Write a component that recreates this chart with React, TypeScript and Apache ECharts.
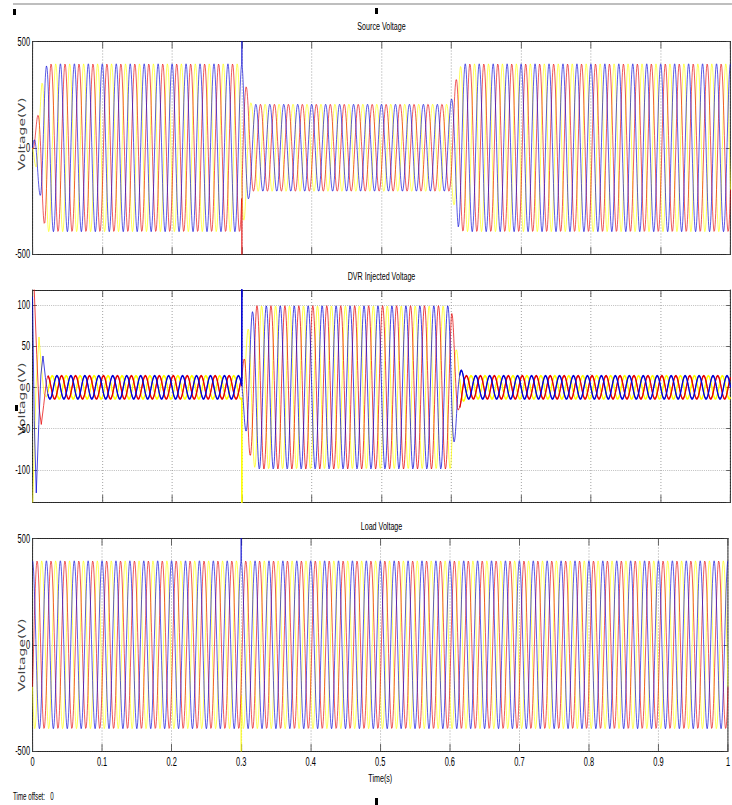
import React, { useEffect, useRef } from "react";
import * as echarts from "echarts";

// ---------------- values ----------------
const TIME_TICKS = [0, 0.1, 0.2, 0.3, 0.4, 0.5, 0.6, 0.7, 0.8, 0.9, 1];
const FREQ_HZ = 50; // 5 cycles per 0.1 s
const SAMPLE_STEP = 0.0004;
const SPIKE_T = 0.3;

const PHASE_NAMES = ["Phase C", "Phase B", "Phase A"];
const PHASE_COLORS = ["#ffff00", "#e60000", "#0000d6"];

// Source voltage: amplitude envelope (s, V) and phase angles (deg)
const SOURCE_PHASE_DEG = [120, -120, 0];
const SOURCE_ENV_T = [0, 0.0067, 0.01, 0.0133, 0.018, 0.022, 0.3, 0.305, 0.31, 0.314, 0.598, 0.603, 0.61, 0.617, 1];
const SOURCE_ENV_V = [0, 140, 210, 300, 375, 395, 395, 307, 237, 205, 205, 260, 372, 395, 395];
const SOURCE_SPIKE = [null, -620, 620];
const SOURCE_Y = [-500, 500];
const SOURCE_Y_STEP = 500;

// DVR injected voltage
const DVR_PHASE_DEG = [-150, -30, 90];
const DVR_ENV_T = [0.022, 0.3, 0.304, 0.31, 0.316, 0.32, 0.6, 0.603, 0.607, 0.611, 0.615, 0.62, 1];
const DVR_ENV_V = [14, 14, 45, 78, 94, 99, 99, 76, 50, 26, 20, 14, 14];
const DVR_SPIKE = [-180, null, 180];
const DVR_START_C = [[0, -150], [0.002, -90], [0.005, 0], [0.0093, 61], [0.013, 22], [0.0165, -8], [0.02, -12]];
const DVR_START_B = [[0, 160], [0.0025, 118], [0.006, 40], [0.0095, -25], [0.0126, -45], [0.016, -22], [0.02, 8]];
const DVR_START_A = [[0, 110], [0.0025, -40], [0.0054, -128], [0.009, -45], [0.012, 15], [0.015, 38], [0.0185, 12], [0.02, 3]];
const DVR_Y = [-139, 118];
// time spans drawn with the heavier stroke (small steady-state injection)
const DVR_BOLD_SPANS = [[0.022, 0.3], [0.612, 1]];

// Load voltage
const LOAD_PHASE_DEG = [120, -120, 0];
const LOAD_ENV_T = [0, 1];
const LOAD_ENV_V = [395, 395];
const LOAD_SPIKE = [-560, null, 560];
const LOAD_Y = [-500, 500];
const LOAD_Y_STEP = 500;

// ---------------- layout (reference image is horizontally compressed) ----------------
const S = 0.6203;
const W = 1180;
const H = 805;
const FONT = "'Liberation Sans', Arial, sans-serif";

function interp(T: number[], V: number[], t: number) {
  if (t <= T[0]) return V[0];
  for (let i = 1; i < T.length; i++) {
    if (t <= T[i]) {
      const f = (t - T[i - 1]) / (T[i] - T[i - 1]);
      return V[i - 1] + f * (V[i] - V[i - 1]);
    }
  }
  return V[V.length - 1];
}

function buildWave(envT: number[], envV: number[], phaseDeg: number, spike: number | null, startPts?: number[][]) {
  const data: number[][] = [];
  if (startPts) startPts.forEach((p) => data.push([p[0], p[1]]));
  const n = Math.round(1 / SAMPLE_STEP);
  const spikeIdx = Math.round(SPIKE_T / SAMPLE_STEP);
  for (let i = Math.round(envT[0] / SAMPLE_STEP); i <= n; i++) {
    const t = +(i * SAMPLE_STEP).toFixed(6);
    let v = interp(envT, envV, t) * Math.cos(2 * Math.PI * FREQ_HZ * t + (phaseDeg * Math.PI) / 180);
    if (spike != null && i === spikeIdx) v = spike;
    data.push([t, +v.toFixed(2)]);
  }
  return data;
}

const GRID_LEFT = 32.5 / S;
const GRID_WIDTH = 698 / S;
const GRIDS = [
  { top: 41.5, height: 212.5 },
  { top: 290, height: 212 },
  { top: 538.5, height: 212.5 },
];

const dotted = { color: "#8c8c8c", type: [1, 2] as any, width: 1 };

function xAxes(gi: number, showLabels: boolean) {
  const base = {
    type: "value",
    gridIndex: gi,
    min: TIME_TICKS[0],
    max: TIME_TICKS[TIME_TICKS.length - 1],
    interval: +(TIME_TICKS[1] - TIME_TICKS[0]).toFixed(3),
    axisLine: { show: true, onZero: false, lineStyle: { color: "#000", width: 1 } },
    axisTick: { show: true, inside: true, length: 7, lineStyle: { color: "#444" } },
  };
  return [
    {
      ...base,
      position: "bottom",
      axisLabel: { show: showLabels, fontSize: 12, fontFamily: FONT, color: "#000", margin: 5 },
      splitLine: { show: true, lineStyle: dotted },
      name: showLabels ? "Time(s)" : "",
      nameLocation: "middle",
      nameGap: 21,
      nameTextStyle: { fontSize: 11.5, fontFamily: FONT, color: "#000" },
    },
    { ...base, position: "top", axisLabel: { show: false }, splitLine: { show: false } },
  ];
}

function yAxes(gi: number, range: number[], step: number | null, hideEnds: boolean) {
  const base: any = {
    type: "value",
    gridIndex: gi,
    min: range[0],
    max: range[1],
    axisLine: { show: true, onZero: false, lineStyle: { color: "#000", width: 1 } },
    axisTick: { show: true, inside: true, length: 7, lineStyle: { color: "#444" } },
  };
  if (step != null) base.interval = step;
  else base.splitNumber = 5;
  return [
    {
      ...base,
      position: "left",
      axisLabel: {
        show: true,
        fontSize: 12,
        fontFamily: FONT,
        color: "#000",
        margin: 4,
        showMinLabel: !hideEnds,
        showMaxLabel: !hideEnds,
      },
      splitLine: { show: true, lineStyle: dotted },
    },
    { ...base, position: "right", axisLabel: { show: false }, splitLine: { show: false } },
  ];
}

function inSpans(t: number, spans: number[][]) {
  return spans.some((s) => t >= s[0] && t <= s[1]);
}

function lineSeries(gi: number, p: number, data: number[][], width: number, suffix: string) {
  return {
    name: PHASE_NAMES[p] + " " + gi + suffix,
    type: "line",
    xAxisIndex: gi * 2,
    yAxisIndex: gi * 2,
    showSymbol: false,
    symbol: "none",
    silent: true,
    clip: true,
    connectNulls: false,
    lineStyle: { color: PHASE_COLORS[p], width },
    itemStyle: { color: PHASE_COLORS[p] },
    data,
  };
}

function panelSeries(
  gi: number,
  phaseDeg: number[],
  envT: number[],
  envV: number[],
  spikes: (number | null)[],
  width: number,
  starts?: number[][][],
  boldSpans?: number[][],
  boldWidth?: number
) {
  const out: any[] = [];
  PHASE_NAMES.forEach((_, p) => {
    const data = buildWave(envT, envV, phaseDeg[p], spikes[p], starts ? starts[p] : undefined);
    if (!boldSpans) {
      out.push(lineSeries(gi, p, data, width, ""));
      return;
    }
    // thin stroke for the whole wave except bold spans; bold stroke overlay on the spans
    out.push(lineSeries(gi, p, data, width, ""));
    const bold = data.map((d) => (inSpans(d[0], boldSpans) ? d : [d[0], "-"]));
    out.push(lineSeries(gi, p, bold as any, boldWidth || width, " steady"));
  });
  return out;
}

function vText(text: string, yCenter: number) {
  return {
    type: "text",
    x: 22 / S,
    y: yCenter,
    rotation: Math.PI / 2,
    style: {
      text,
      fontSize: 14,
      fontFamily: "'DejaVu Sans', Verdana, sans-serif",
      fill: "#444",
      align: "center",
      verticalAlign: "middle",
    },
  };
}

function title(text: string, y: number) {
  return {
    type: "text",
    x: 381.5 / S,
    y,
    style: { text, fontSize: 11.5, fontFamily: FONT, fill: "#000", align: "center", verticalAlign: "middle" },
  };
}

function mark(x: number, y: number, h: number) {
  return { type: "rect", shape: { x: x / S, y, width: 3 / S, height: h }, style: { fill: "#000" } };
}

export default function App() {
  const ref = useRef<HTMLDivElement>(null);
  useEffect(() => {
    if (!ref.current) return;
    const chart = echarts.init(ref.current, undefined, { renderer: "svg" });
    const option: any = {
      animation: false,
      backgroundColor: "#fff",
      grid: GRIDS.map((g) => ({ left: GRID_LEFT, width: GRID_WIDTH, top: g.top, height: g.height })),
      xAxis: [...xAxes(0, false), ...xAxes(1, false), ...xAxes(2, true)],
      yAxis: [
        ...yAxes(0, SOURCE_Y, SOURCE_Y_STEP, false),
        ...yAxes(1, DVR_Y, null, true),
        ...yAxes(2, LOAD_Y, LOAD_Y_STEP, false),
      ],
      series: [
        ...panelSeries(0, SOURCE_PHASE_DEG, SOURCE_ENV_T, SOURCE_ENV_V, SOURCE_SPIKE, 0.8),
        ...panelSeries(
          1,
          DVR_PHASE_DEG,
          DVR_ENV_T,
          DVR_ENV_V,
          DVR_SPIKE,
          0.9,
          [DVR_START_C, DVR_START_B, DVR_START_A],
          DVR_BOLD_SPANS,
          2
        ),
        ...panelSeries(2, LOAD_PHASE_DEG, LOAD_ENV_T, LOAD_ENV_V, LOAD_SPIKE, 0.8),
      ],
      graphic: [
        { type: "line", shape: { x1: 13 / S, y1: 4, x2: W, y2: 4 }, style: { stroke: "#a8a8a8", lineWidth: 1.5 } },
        mark(13, 9, 6),
        mark(375, 8, 6),
        mark(375, 798, 7),
        mark(15, 405, 6),
        title("Source Voltage", 26),
        title("DVR Injected Voltage", 276),
        title("Load Voltage", 526),
        vText("Voltage(V)", 134),
        vText("Voltage(V)", 399),
        vText("Voltage(V)", 655),
        {
          type: "text",
          x: 13 / S,
          y: 796,
          style: { text: "Time offset:   0", fontSize: 10, fontFamily: FONT, fill: "#000", align: "left", verticalAlign: "middle" },
        },
      ],
    };
    chart.setOption(option);
    return () => chart.dispose();
  }, []);
  return (
    <div style={{ position: "absolute", left: 0, top: 0, width: 732, height: H, overflow: "hidden", background: "#fff" }}>
      <div ref={ref} style={{ width: W, height: H, transform: `scaleX(${S})`, transformOrigin: "0 0" }} />
    </div>
  );
}
